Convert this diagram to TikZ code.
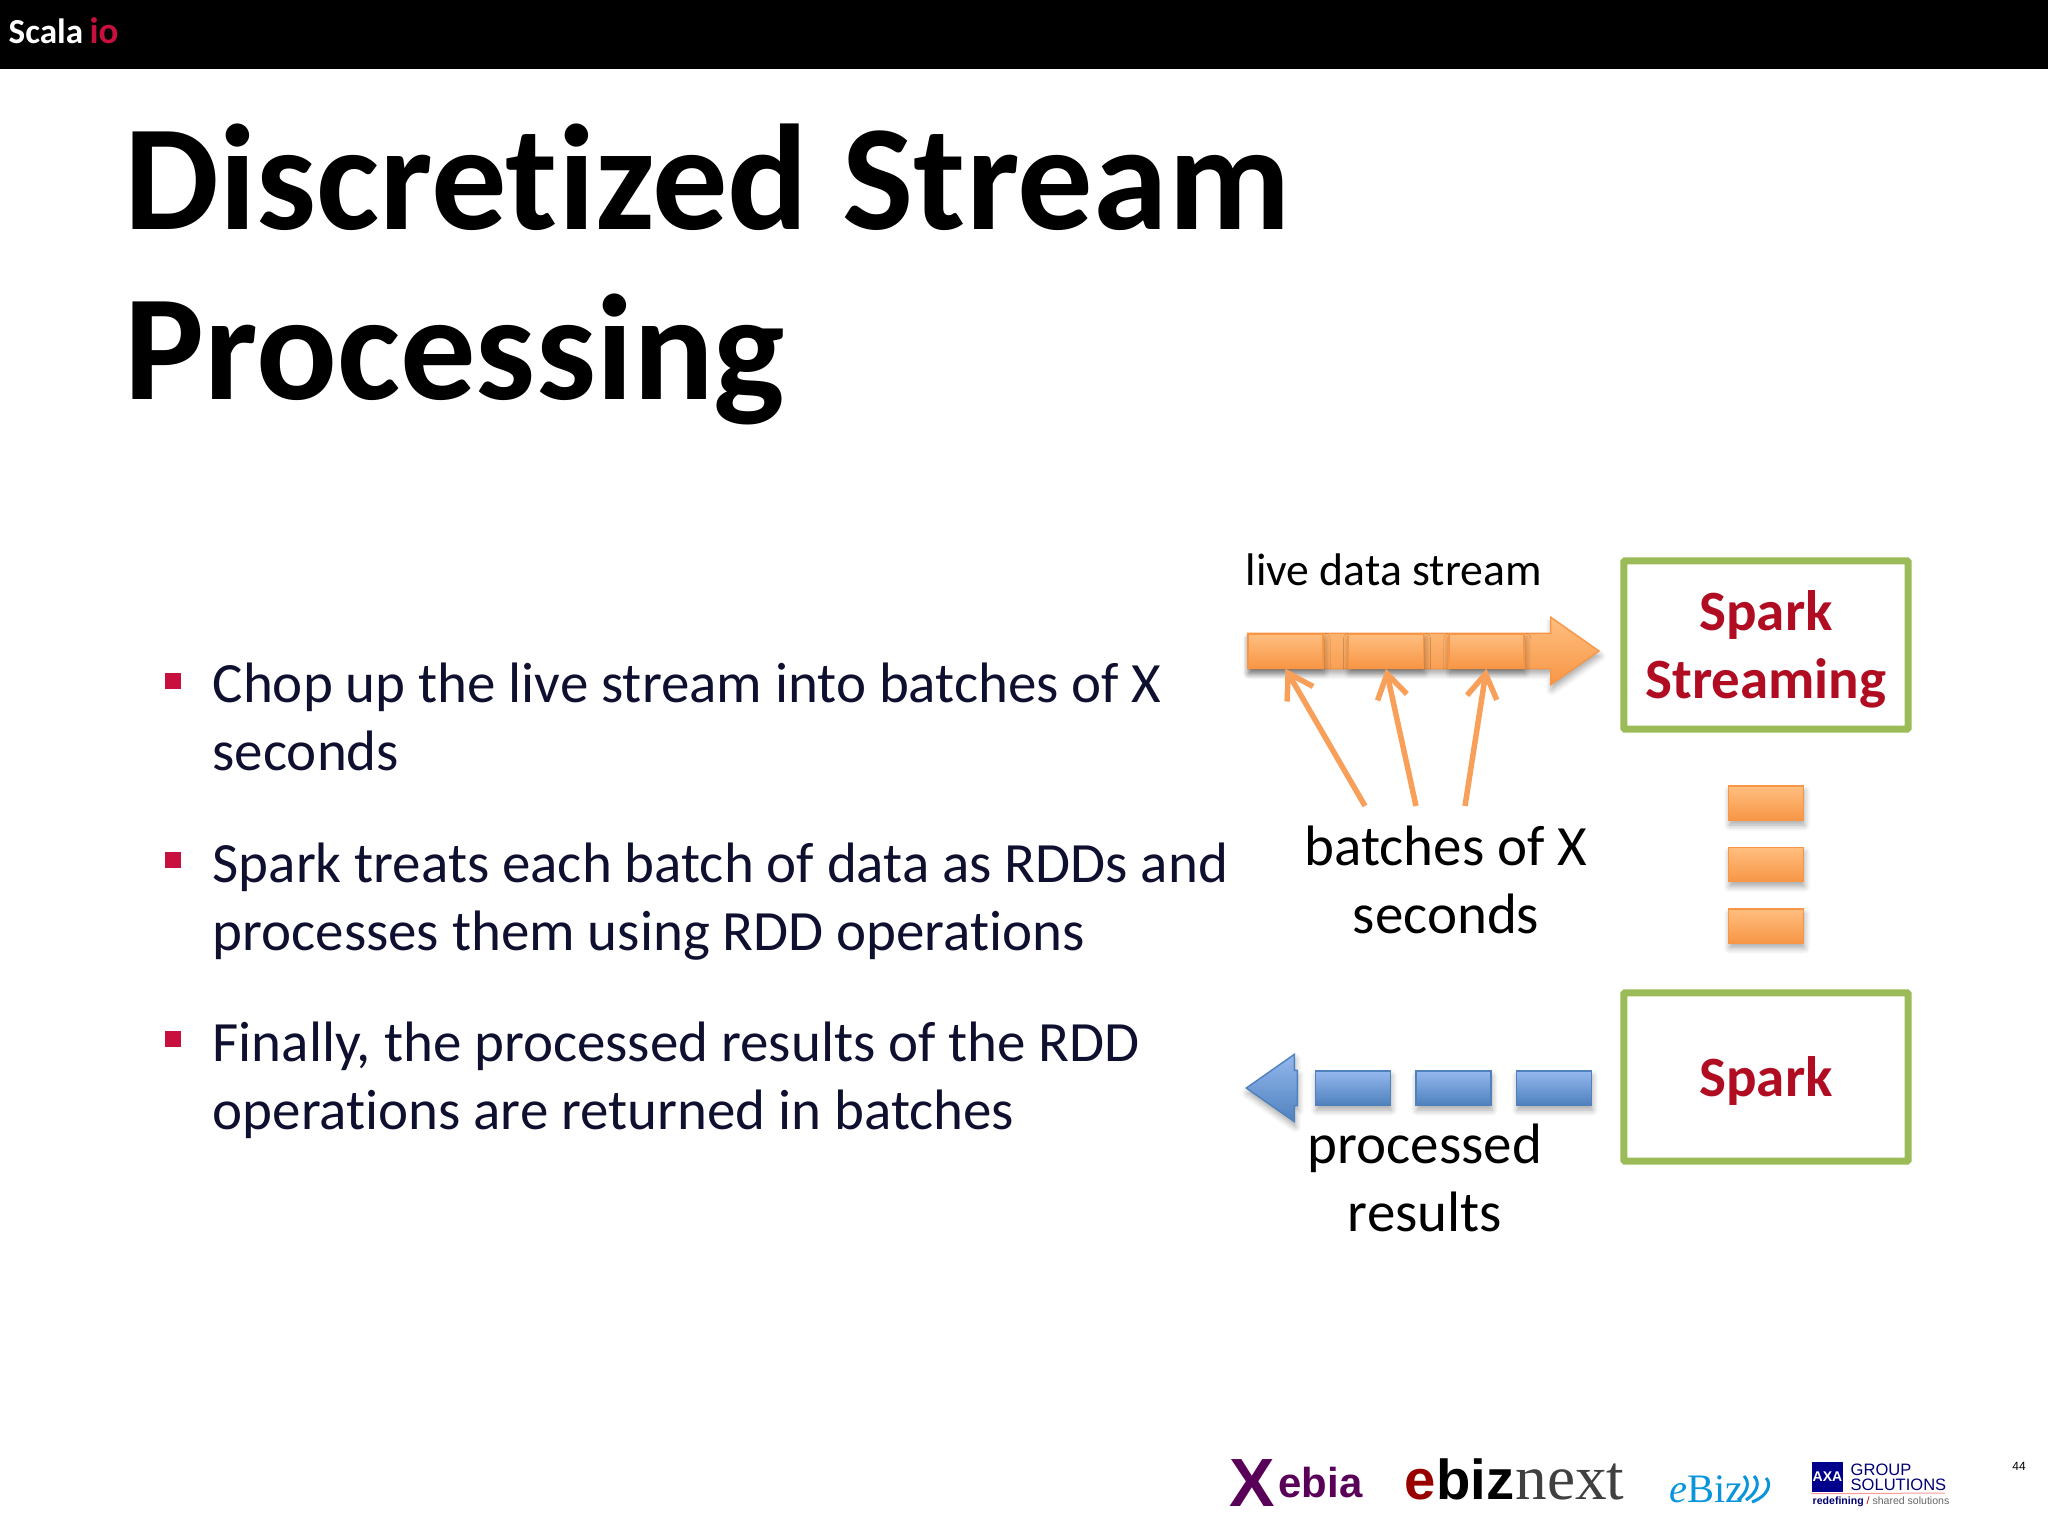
\documentclass[tikz,border=0pt]{standalone}
\usepackage{fontspec}
\setmainfont[Ligatures=CommonOff]{Carlito}
\newfontfamily\logofont{Liberation Sans}
\newfontfamily\logoserif{Liberation Serif}
\usetikzlibrary{positioning, shapes.arrows, shadows.blur, arrows.meta}
\definecolor{slidetext}{HTML}{0F1030}
\definecolor{sparkred}{HTML}{B00D23}
\definecolor{boxgreen}{HTML}{9BBB59}
\definecolor{streamorange}{HTML}{F79646}
\definecolor{streamlight}{HTML}{FFBE7F}
\definecolor{resultblue}{HTML}{4F81BD}
\definecolor{resultlight}{HTML}{94B8EE}
\definecolor{bulletred}{HTML}{C8103F}
\tikzset{
    softshadow/.style={blur shadow={shadow blur steps=6, shadow xshift=0.01cm, shadow yshift=-0.05cm, shadow blur radius=0.06cm, shadow opacity=35}},
    orangebar/.style={rectangle, minimum width=0.75cm, minimum height=0.34cm, inner sep=0, draw=streamorange, top color=streamlight, bottom color=streamorange, softshadow},
    bluebar/.style={rectangle, minimum width=0.75cm, minimum height=0.34cm, inner sep=0, draw=resultblue, top color=resultlight, bottom color=resultblue, softshadow},
    framebox/.style={rectangle, minimum width=2.84cm, minimum height=1.68cm, draw=boxgreen, line width=0.07cm, rounded corners=0.01cm},
    framelabel/.style={inner sep=0, align=center, text=sparkred, font=\bfseries\fontsize{16.2}{19.35}\selectfont},
    batcharrow/.style={draw=streamorange!90!white, line width=0.055cm, -{Straight Barb[length=0.24cm, width=0.3cm, line width=0.055cm]}},
    titletext/.style={anchor=base west, inner sep=0, font=\bfseries\fontsize{42.8}{50}\selectfont},
    bodytext/.style={anchor=west, inner sep=0, align=left, text=slidetext, font=\fontsize{16.2}{19.35}\selectfont},
    bulletmark/.style={rectangle, minimum size=0.165cm, inner sep=0, fill=bulletred},
    labeltext/.style={inner sep=0, align=center, font=\fontsize{16.2}{19.35}\selectfont},
    streamhead/.style={single arrow, single arrow head extend=0.16cm, single arrow tip angle=70, single arrow head indent=0, text height=0.34cm, text depth=0cm, inner sep=0, softshadow},
}
\begin{document}
\begin{tikzpicture}[x=0.01cm, y=-0.01cm]
    \useasboundingbox (0,0) rectangle (2048,1536);
    \fill[black] (0,0) rectangle (2048,69);
    \node[anchor=base west, inner sep=0, text=white, font=\bfseries\fontsize{10}{12}\selectfont] (scala) at (8,43) {Scala};
    \node[right=0.05cm of scala, inner sep=0, text=bulletred, font=\bfseries\fontsize{10.5}{12}\selectfont] (io) {io};

    \node[titletext] (title1) at (124,229) {Discretized Stream};
    \node[titletext] (title2) at (124,399) {Processing};

    \node[bodytext] (item1) at (212,717) {Chop up the live stream into batches of X\\seconds};
    \node[bodytext] (item2) at (212,902) {Spark treats each batch of data as RDDs and\\processes them using RDD operations};
    \node[bodytext] (item3) at (212,1080) {Finally, the processed results of the RDD\\operations are returned in batches};
    \node[bulletmark] (mark1) at (173,681) {};
    \node[bulletmark] (mark2) at (173,860) {};
    \node[bulletmark] (mark3) at (173,1039) {};

    % stream side
    \node[labeltext, anchor=base west, font=\fontsize{13}{15}\selectfont] (live) at (1245,585) {live data stream};
    \node[streamhead, anchor=tail, minimum height=3.51cm, draw=streamorange, top color=streamlight, bottom color=streamorange] (stream) at (1247,651) {};
    \node[orangebar] (batch1) at (1285.5,651) {};
    \node[orangebar, right=0.24cm of batch1] (batch2) {};
    \node[orangebar, right=0.24cm of batch2] (batch3) {};
    \node[framebox] (sstream) at (1766,645) {};
    \node[framelabel, yshift=-0.04cm] (sstreamname) at (sstream) {Spark\\Streaming};
    \node[labeltext] (batches) at (1446,880) {batches of X\\seconds};
    \coordinate (from1) at (1365,806);
    \coordinate (from2) at (1416,806);
    \coordinate (from3) at (1465,806);
    \draw[batcharrow] (from1) -- (batch1.south);
    \draw[batcharrow] (from2) -- (batch2.south);
    \draw[batcharrow] (from3) -- (batch3.south);

    \node[orangebar] (rdd1) at (1766,803) {};
    \node[orangebar, below=0.26cm of rdd1] (rdd2) {};
    \node[orangebar, below=0.26cm of rdd2] (rdd3) {};

    % output side
    \node[framebox] (spark) at (1766,1077) {};
    \node[framelabel, yshift=-0.04cm] (sparkname) at (spark) {Spark};
    \node[bluebar] (out3) at (1554,1088) {};
    \node[bluebar, left=0.24cm of out3] (out2) {};
    \node[bluebar, left=0.24cm of out2] (out1) {};
    \node[streamhead, anchor=tail, shape border rotate=180, minimum height=0.51cm, draw=resultblue, top color=resultlight, bottom color=resultblue] (back) at (1298,1088) {};
    \node[labeltext] (results) at (1425,1178) {processed\\results};

    % logos
    \node[anchor=base west, inner sep=0, text=violet!70!black, font=\logofont\bfseries\fontsize{19.4}{20}\selectfont] (xebiaX) at (1229,1506) {X};
    \node[anchor=base west, inner sep=0, text=violet!70!black, font=\logofont\bfseries\fontsize{11.9}{12}\selectfont] (xebia) at (1278,1497) {ebia};
    \node[anchor=base west, inner sep=0, font=\logofont\bfseries\fontsize{16}{16}\selectfont] (ebizA) at (1404,1499) {\textcolor{red!60!black}{e}biz};
    \node[right=0cm of ebizA.base east, anchor=base west, inner sep=0, text=black!75, font=\logoserif\fontsize{18}{18}\selectfont] (ebizB) {next};
    \node[anchor=base west, inner sep=0, text=cyan!80!blue, font=\logoserif\fontsize{11.5}{14}\selectfont] (ebizC) at (1669,1502) {\textit{e}Biz};
    \draw[cyan!80!blue, line width=0.03cm] (1738,1500) .. controls (1748,1492) and (1750,1482) .. (1744,1476);
    \draw[cyan!80!blue, line width=0.03cm] (1746,1500) .. controls (1758,1492) and (1760,1482) .. (1754,1476);
    \draw[cyan!80!blue, line width=0.03cm] (1752,1502) .. controls (1768,1496) and (1772,1484) .. (1766,1478);
    \node[rectangle, minimum width=0.31cm, minimum height=0.3cm, inner sep=0, fill=blue!55!black, text=white, font=\logofont\bfseries\fontsize{4}{5}\selectfont] (axa) at (1827.5,1477) {AXA};
    \node[anchor=north west, inner sep=0, align=left, text=blue!45!black, font=\logofont\fontsize{4.7}{4.4}\selectfont] (group) at (1850,1463) {GROUP\\SOLUTIONS};
    \node[anchor=base west, inner sep=0, font=\logofont\fontsize{3}{4}\selectfont] (shared) at (1812,1504) {\textcolor{blue!45!black}{\bfseries redefining} \textcolor{red!70!black}{/} \textcolor{black!60}{shared solutions}};
    \draw[red!40, line width=0.01cm] (axa.south west) ++(0,1) -- (1945,1493);
    \node[anchor=base, inner sep=0, font=\logofont\fontsize{3.4}{4}\selectfont] (pagenum) at (2019,1470) {44};
\end{tikzpicture}
\end{document}
